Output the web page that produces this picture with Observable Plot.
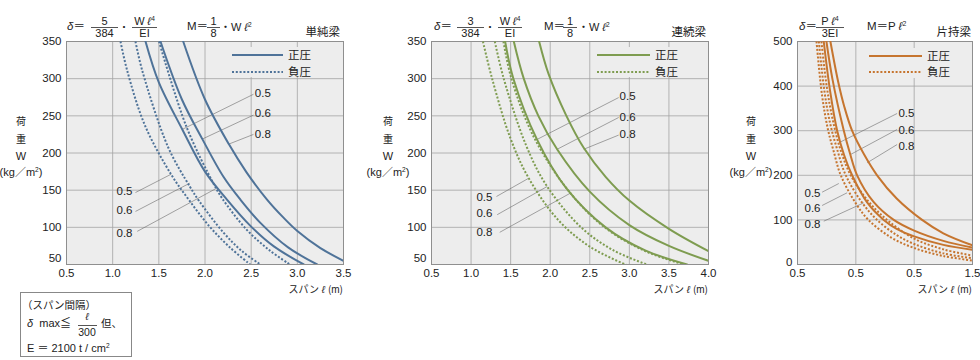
<!DOCTYPE html>
<html><head><meta charset="utf-8">
<script src="https://cdn.jsdelivr.net/npm/d3@7"></script>
<script src="https://cdn.jsdelivr.net/npm/@observablehq/plot@0.6"></script>
<style>
body{margin:0;background:#fff;}
#root{position:relative;width:980px;height:360px;overflow:hidden;font-family:"Liberation Sans",Arial,"Noto Sans CJK JP",sans-serif;color:#222;}
.abs{position:absolute;white-space:nowrap;line-height:1;}
.jp{font-family:"Noto Sans CJK JP",sans-serif;}
sup{font-size:0.6em;vertical-align:0.55em;line-height:0;}
</style></head><body><div id="root"></div><script>
// ---------- data ----------
const spacingLabels = ["0.5","0.6","0.8"];
const legendLabels = ["正圧","負圧"];
const chartTitles = ["単純梁","連続梁","片持梁"];

// 単純梁 (simple beam) : [span ℓ (m), load W (kg/m2)]
const simplePos05 = [[1.356,350],[1.5,295],[1.753,232],[2.0,175],[2.24,137],[2.5,101],[2.75,74],[3.07,50]];
const simplePos06 = [[1.518,350],[1.75,272],[1.97,219],[2.2,168],[2.385,137],[2.6,106],[2.9,73],[3.215,50]];
const simplePos08 = [[1.764,350],[2.0,272],[2.258,212],[2.45,174],[2.674,137],[2.85,113],[3.0,95],[3.25,72],[3.5,55]];
const simpleNeg05 = [[1.085,350],[1.157,311],[1.35,237],[1.634,171],[1.825,137],[2.05,101],[2.27,73],[2.49,50]];
const simpleNeg06 = [[1.247,350],[1.32,311],[1.6,208],[1.835,155],[1.933,136],[2.2,93],[2.4,68],[2.6,50]];
const simpleNeg08 = [[1.502,350],[1.8,235],[2.1,157],[2.186,139],[2.45,97],[2.7,69],[2.92,50]];
const simpleXTicks = [0.5,1.0,1.5,2.0,2.5,3.0,3.5];
const simpleXLabels = ["0.5","1.0","1.5","2.0","2.5","3.0","3.5"];
const simplePosLabelAt = [[2.54,280.7],[2.54,253.2],[2.54,225.0]];
const simplePosLeaderFrom = [[2.525,279],[2.525,251],[2.525,225]];
const simplePosLeaderTo = [[1.753,231.7],[1.970,218.7],[2.258,212]];
const simpleNegLabelAt = [[1.215,148.2],[1.215,122.7],[1.215,91.5]];
const simpleNegLeaderFrom = [[1.247,146.8],[1.247,121.4],[1.266,94.6]];
const simpleNegLeaderTo = [[1.634,171.5],[1.835,159.4],[2.114,151.8]];

// 連続梁 (continuous beam)
const contPos05 = [[1.43,350],[1.535,300],[1.834,218],[2.2,153],[2.7,100],[3.2,69],[3.73,50]];
const contPos06 = [[1.54,350],[1.666,300],[1.85,250],[2.087,205],[2.5,148],[3.0,103],[3.5,75],[4.0,55]];
const contPos08 = [[1.86,350],[1.98,306],[2.2,251],[2.423,207],[2.7,168],[3.0,136],[3.5,98],[4.0,68]];
const contNeg05 = [[1.15,350],[1.266,300],[1.5,219],[1.729,166],[2.1,110],[2.5,74],[2.97,49]];
const contNeg06 = [[1.3,350],[1.413,300],[1.7,209],[1.961,155],[2.4,99],[2.8,69],[3.22,50]];
const contNeg08 = [[1.409,350],[1.51,300],[1.8,220],[2.255,146],[2.7,99],[3.2,68],[3.69,50]];
const contXTicks = [0.5,1.0,1.5,2.0,2.5,3.0,3.5,4.0];
const contXLabels = ["0.5","1.0","1.5","2.0","2.5","3.0","3.5","4.0"];
const contPosLabelAt = [[2.876,276.7],[2.876,248.6],[2.876,225.4]];
const contPosLeaderFrom = [[2.865,274.6],[2.865,247.8],[2.865,224.1]];
const contPosLeaderTo = [[1.835,218.3],[2.087,205],[2.423,205]];
const contNegLabelAt = [[1.27,140.7],[1.27,118.3],[1.27,93.3]];
const contNegLeaderFrom = [[1.321,141.5],[1.33,117],[1.362,93.3]];
const contNegLeaderTo = [[1.729,166.1],[1.961,154.9],[2.255,146]];

// 片持梁 (cantilever)
const cantPos05 = [[0.225,500],[0.28,388],[0.34,300],[0.4,245],[0.468,200],[0.6,138],[0.739,100],[0.85,80],[1.0,63],[1.25,44],[1.5,33]];
const cantPos06 = [[0.248,500],[0.3,415],[0.397,300],[0.45,249],[0.511,200],[0.65,141],[0.825,100],[1.0,76],[1.25,53],[1.5,38]];
const cantPos08 = [[0.282,500],[0.35,408],[0.4,355],[0.468,300],[0.57,247],[0.682,200],[0.85,148],[1.068,100],[1.25,70],[1.5,43]];
const cantNeg05 = [[0.163,500],[0.21,380],[0.26,304],[0.31,254],[0.371,200],[0.5,137],[0.608,100],[0.8,61],[1.0,37],[1.25,19],[1.5,9]];
const cantNeg06 = [[0.183,500],[0.23,390],[0.28,316],[0.34,258],[0.414,200],[0.55,140],[0.682,100],[0.85,66],[1.0,46],[1.25,25],[1.5,14]];
const cantNeg08 = [[0.205,500],[0.25,400],[0.3,327],[0.37,256],[0.456,200],[0.6,144],[0.768,100],[1.0,58],[1.25,34],[1.5,20]];
const cantXTicks = [0,0.5,1.0,1.5];
const cantXLabels = ["0.5","0.5","0.5","1.5"];
const cantPosLabelAt = [[0.865,340],[0.865,301],[0.865,265]];
const cantPosLeaderFrom = [[0.854,338.6],[0.854,302.7],[0.854,269]];
const cantPosLeaderTo = [[0.354,272.9],[0.454,246.6],[0.597,228]];
const cantNegLabelAt = [[0.197,159.2],[0.197,127.1],[0.197,89.7]];
const cantNegLeaderFrom = [[0.211,162.1],[0.211,132.3],[0.225,97.1]];
const cantNegLeaderTo = [[0.354,181.6],[0.425,160.8],[0.568,138.3]];

const wTicks350 = [50,100,150,200,250,300,350];
const wTicks500 = [0,100,200,300,400,500];

// ---------- drawing ----------
const FONT = '"Liberation Sans", Arial, "Noto Sans CJK JP", sans-serif';
const root = document.getElementById("root");
const DOT = "2,1.8";

function rowsOf(list){ return list.flatMap((arr,k)=>arr.map(([x,y])=>({x,y,k}))); }
function labelsOf(at){ return at.map(([x,y],i)=>({x,y,t:spacingLabels[i]})); }
function leadersOf(from,to){ return from.map(([x1,y1],i)=>({x1,y1,x2:to[i][0],y2:to[i][1]})); }

function buildChart(c){
  const fmt = new Map(c.xTicks.map((d,i)=>[d,c.xLabels[i]]));
  const grid = {stroke:"#a3a3a3", strokeOpacity:1, strokeWidth:0.8};
  const svg = Plot.plot({
    width:c.width, height:290,
    marginLeft:c.ml, marginRight:c.mr, marginTop:41, marginBottom:26,
    style:{fontFamily:FONT, fontSize:"11.5px", color:"#222", background:"transparent", overflow:"visible"},
    x:{domain:c.xDomain}, y:{domain:c.yDomain},
    marks:[
      Plot.frame({fill:"#ededed"}),
      Plot.gridX(c.xTicks, grid),
      Plot.gridY(c.yTicks, grid),
      Plot.frame({stroke:"#8f8f8f", strokeWidth:1}),
      Plot.link(leadersOf(c.posFrom,c.posTo), {x1:"x1",y1:"y1",x2:"x2",y2:"y2",stroke:"#6a6a6a",strokeWidth:0.6}),
      Plot.link(leadersOf(c.negFrom,c.negTo), {x1:"x1",y1:"y1",x2:"x2",y2:"y2",stroke:"#6a6a6a",strokeWidth:0.6}),
      Plot.line(rowsOf(c.neg), {x:"x",y:"y",z:"k",stroke:c.color,strokeWidth:2,strokeDasharray:DOT,strokeLinecap:"butt",curve:"catmull-rom",clip:true}),
      Plot.line(rowsOf(c.pos), {x:"x",y:"y",z:"k",stroke:c.color,strokeWidth:2,curve:"catmull-rom",clip:true}),
      Plot.text(labelsOf(c.posAt), {x:"x",y:"y",text:"t",textAnchor:"start",fontSize:11.5,fill:"#222"}),
      Plot.text(labelsOf(c.negAt), {x:"x",y:"y",text:"t",textAnchor:"end",fontSize:11.5,fill:"#222"}),
      Plot.axisX(c.xTicks, {tickSize:0, tickPadding:4, tickFormat:d=>fmt.get(d), label:null, fontSize:11.5}),
      Plot.axisY(c.yTicks.slice(1), {tickSize:0, tickPadding:5, label:null, fontSize:11.5}),
      Plot.axisY(c.yTicks.slice(0,1), {tickSize:0, tickPadding:5, label:null, fontSize:11.5, dy:c.bottomDy})
    ]
  });
  svg.style.position = "absolute";
  svg.style.left = c.left + "px";
  svg.style.top = "0px";
  root.appendChild(svg);
}

buildChart({left:0, width:350, ml:66, mr:7, xDomain:[0.5,3.5], yDomain:[50,350], xTicks:simpleXTicks, xLabels:simpleXLabels, yTicks:wTicks350, bottomDy:-6, color:"#4f7399",
  pos:[simplePos05,simplePos06,simplePos08], neg:[simpleNeg05,simpleNeg06,simpleNeg08],
  posAt:simplePosLabelAt, posFrom:simplePosLeaderFrom, posTo:simplePosLeaderTo,
  negAt:simpleNegLabelAt, negFrom:simpleNegLeaderFrom, negTo:simpleNegLeaderTo});
buildChart({left:365, width:350, ml:66, mr:7, xDomain:[0.5,4.0], yDomain:[50,350], xTicks:contXTicks, xLabels:contXLabels, yTicks:wTicks350, bottomDy:-6, color:"#7e9c50",
  pos:[contPos05,contPos06,contPos08], neg:[contNeg05,contNeg06,contNeg08],
  posAt:contPosLabelAt, posFrom:contPosLeaderFrom, posTo:contPosLeaderTo,
  negAt:contNegLabelAt, negFrom:contNegLeaderFrom, negTo:contNegLeaderTo});
buildChart({left:730, width:250, ml:67, mr:8, xDomain:[0,1.5], yDomain:[0,500], xTicks:cantXTicks, xLabels:cantXLabels, yTicks:wTicks500, bottomDy:-2, color:"#c6752f",
  pos:[cantPos05,cantPos06,cantPos08], neg:[cantNeg05,cantNeg06,cantNeg08],
  posAt:cantPosLabelAt, posFrom:cantPosLeaderFrom, posTo:cantPosLeaderTo,
  negAt:cantNegLabelAt, negFrom:cantNegLeaderFrom, negTo:cantNegLeaderTo});

// ---------- html text helpers ----------
function txt(s, x, y, {anchor="start", size=11, cls="", color="#222"}={}){
  const d = document.createElement("div");
  d.className = "abs " + cls;
  d.style.left = x+"px"; d.style.top = y+"px";
  d.style.fontSize = size+"px"; d.style.color = color;
  const tx = anchor==="start" ? "0" : anchor==="middle" ? "-50%" : "-100%";
  d.style.transform = `translate(${tx},-50%)`;
  d.innerHTML = s;
  root.appendChild(d); return d;
}
function bar(x1, x2, y){
  const d = document.createElement("div");
  d.className="abs";
  d.style.left=x1+"px"; d.style.top=y+"px"; d.style.width=(x2-x1)+"px"; d.style.height="0.8px"; d.style.background="#555";
  root.appendChild(d);
}
function frac(num, den, x1, x2, size=11){
  const cx=(x1+x2)/2;
  txt(num, cx, 21, {anchor:"middle", size});
  bar(x1, x2, 27);
  txt(den, cx, 33, {anchor:"middle", size});
}
const L = '<i>ℓ</i>';

// headers
txt('<i>δ</i>＝', 67, 27, {size:11.5});
frac("5","384",91,118); txt("・",119,27,{size:10,cls:"jp"});
frac("W "+L+"<sup>4</sup>","EI",132,157);
txt("M＝",187,27,{size:11.5}); frac("1","8",207,220); txt("・W "+L+"<sup>2</sup>",220,27,{size:11});
txt(chartTitles[0],340,32,{anchor:"end",size:11.5,cls:"jp"});

txt('<i>δ</i>＝', 434, 27, {size:11.5});
frac("3","384",457,484); txt("・",485,27,{size:10,cls:"jp"});
frac("W "+L+"<sup>4</sup>","EI",498,522);
txt("M＝",544,27,{size:11.5}); frac("1","8",563,577); txt("・W "+L+"<sup>2</sup>",578,27,{size:11});
txt(chartTitles[1],706,32,{anchor:"end",size:11.5,cls:"jp"});

txt('<i>δ</i>＝', 799, 27, {size:11.5});
frac("P "+L+"<sup>4</sup>","3EI",816,844);
txt("M＝P "+L+"<sup>2</sup>",867,27,{size:11.5});
txt(chartTitles[2],971,32,{anchor:"end",size:11.5,cls:"jp"});

// y titles
for (const cx of [21, 388, 751]){
  txt("荷",cx,121,{anchor:"middle",size:10,cls:"jp"});
  txt("重",cx,139,{anchor:"middle",size:10,cls:"jp"});
  txt("W",cx,156,{anchor:"middle",size:11});
  txt('(kg<span class="jp">／</span>m<sup>2</sup>)',cx,172,{anchor:"middle",size:11});
}
// x titles
for (const rx of [343, 708, 972]){
  txt('<span class="jp">スパン</span> '+L+' <span class="jp">(</span>m<span class="jp">)</span>',rx,289,{anchor:"end",size:10});
}

// legends
function legend(bx, by, bw, x1, x2, y1, y2, color){
  const bg=document.createElement("div");
  bg.className="abs"; bg.style.left=bx+"px"; bg.style.top=by+"px"; bg.style.width=bw+"px"; bg.style.height="30px"; bg.style.background="#ededed";
  root.appendChild(bg);
  const ns="http://www.w3.org/2000/svg";
  const s=document.createElementNS(ns,"svg");
  s.setAttribute("width",980); s.setAttribute("height",360);
  s.style.position="absolute"; s.style.left="0"; s.style.top="0";
  for (const [y,dash] of [[y1,null],[y2,DOT]]){
    const l=document.createElementNS(ns,"line");
    l.setAttribute("x1",x1); l.setAttribute("x2",x2); l.setAttribute("y1",y); l.setAttribute("y2",y);
    l.setAttribute("stroke",color); l.setAttribute("stroke-width",2);
    if (dash) l.setAttribute("stroke-dasharray",dash);
    s.appendChild(l);
  }
  root.appendChild(s);
  txt(legendLabels[0], x2+5, y1, {size:11.5,cls:"jp"});
  txt(legendLabels[1], x2+5, y2, {size:11.5,cls:"jp"});
}
legend(226,47,116,232,283,55,72,"#4f7399");
legend(591,47,116,597,650,55,72,"#7e9c50");
legend(862,48,109,869,922,56,72,"#c6752f");

// note box
const box=document.createElement("div");
box.className="abs"; box.style.left="20px"; box.style.top="292px"; box.style.width="112px"; box.style.height="65px";
box.style.border="1px solid #888"; box.style.boxSizing="border-box";
root.appendChild(box);
txt("（スパン間隔）",22,305,{size:10.5,cls:"jp"});
txt('<i>δ</i>&nbsp; max<span class="jp">≦</span>',27,323,{size:11});
txt(L,87,317,{anchor:"middle",size:10});
bar(78,97,325);
txt("300",87,332,{anchor:"middle",size:10.5});
txt("但、",101,323,{size:10.5,cls:"jp"});
txt('E ＝ 2100 t / cm<sup>2</sup>',27,348,{size:11});
</script></body></html>
